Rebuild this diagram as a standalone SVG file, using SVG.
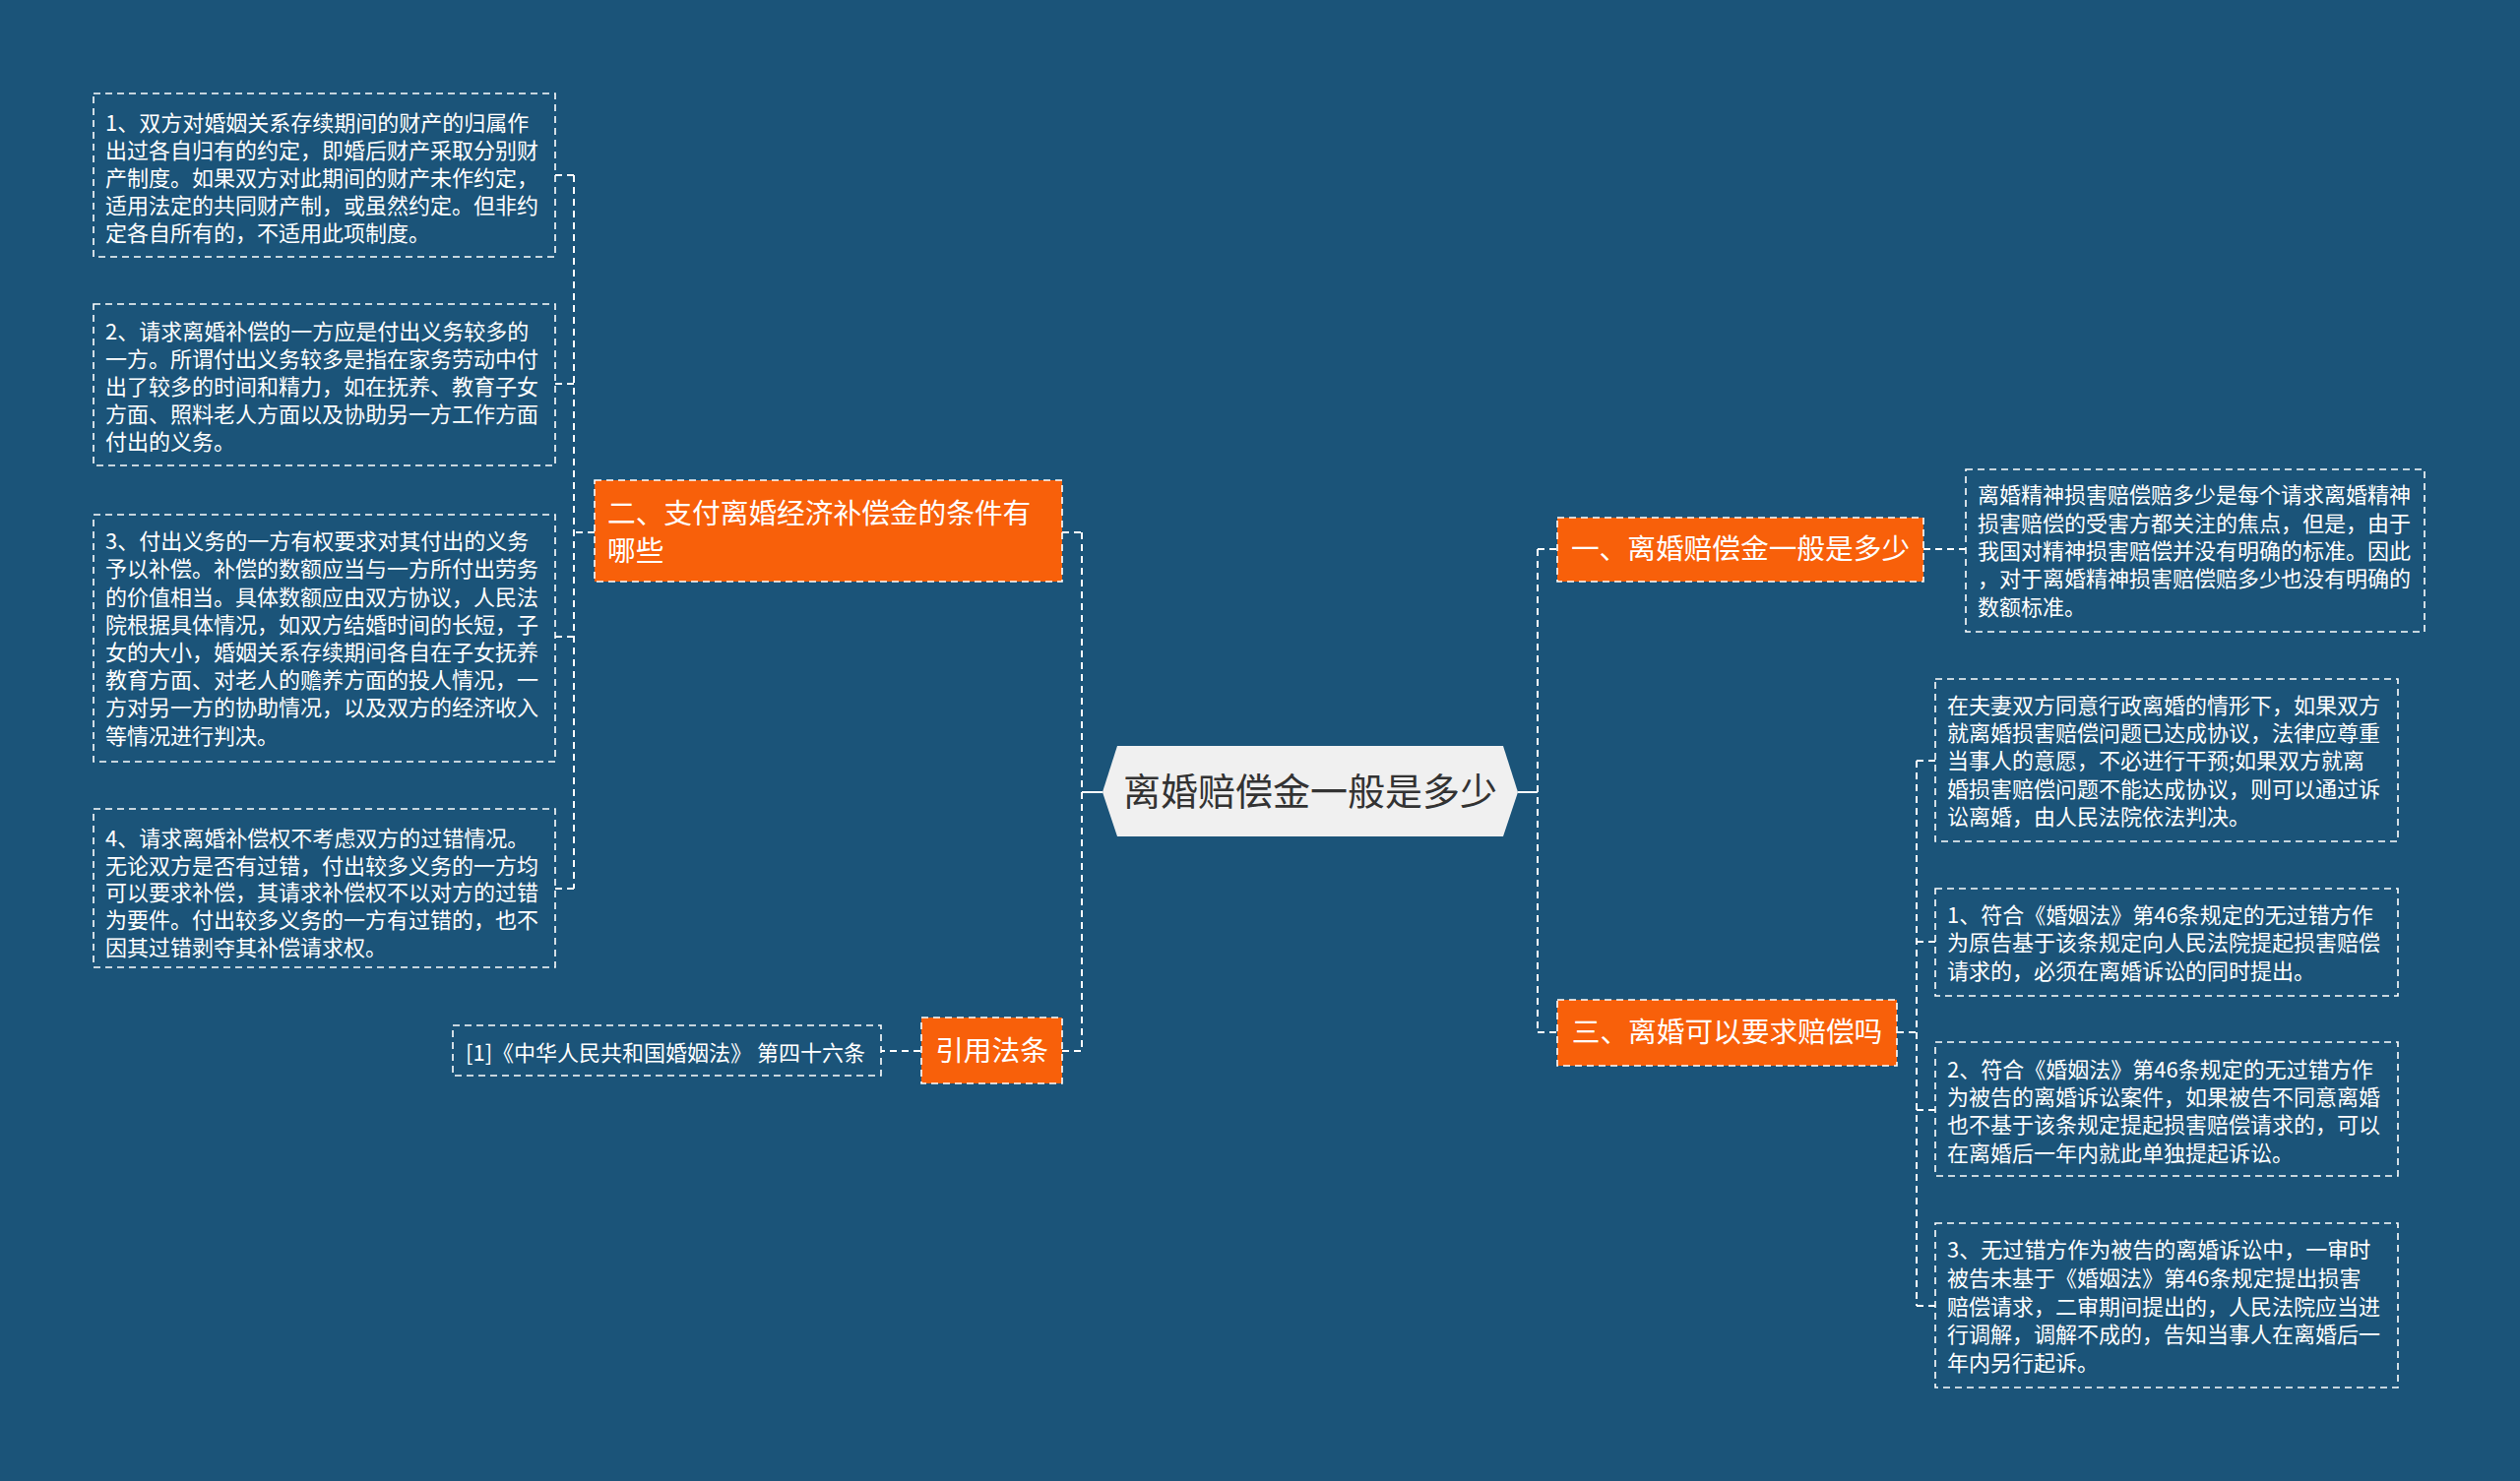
<svg xmlns="http://www.w3.org/2000/svg" width="2560" height="1505" viewBox="0 0 2560 1505">
<style>
.bg{fill:#1b5479}
.leaf{fill:none;stroke:#fff;stroke-width:1.6;stroke-dasharray:7 5}
.topic{fill:#f8600a;stroke:#fff;stroke-width:1.6;stroke-dasharray:7 5}
.conn{fill:none;stroke:#fff;stroke-width:2;stroke-dasharray:7 5}
.solid{fill:none;stroke:#fff;stroke-width:2}
.lt{font-family:"Noto Sans CJK SC","Noto Sans",sans-serif;font-size:22px;fill:#fff}
.tt{font-family:"Noto Sans CJK SC","Noto Sans",sans-serif;font-size:28.7px;fill:#fff}
.ct{font-family:"Noto Sans CJK SC","Noto Sans",sans-serif;font-size:38px;fill:#333}
</style>
<rect class="bg" x="0" y="0" width="2560" height="1505"/>
<g id="connectors">
<path class="solid" d="M1120,805 H1099"/>
<path class="conn" d="M1099,541 V1068"/>
<path class="conn" d="M1079,541 H1099"/>
<path class="conn" d="M1079,1068 H1099"/>
<path class="conn" d="M935,1068 H895"/>
<path class="conn" d="M604,541 H583"/>
<path class="conn" d="M583,178 V903"/>
<path class="conn" d="M583,178 H564"/>
<path class="conn" d="M583,390 H564"/>
<path class="conn" d="M583,647 H564"/>
<path class="conn" d="M583,903 H564"/>
<path class="solid" d="M1542,805 H1562"/>
<path class="conn" d="M1562,558 V1049"/>
<path class="conn" d="M1562,558 H1582"/>
<path class="conn" d="M1562,1049 H1582"/>
<path class="conn" d="M1954,558 H1997"/>
<path class="conn" d="M1927,1049 H1947"/>
<path class="conn" d="M1947,773 V1327"/>
<path class="conn" d="M1947,773 H1966"/>
<path class="conn" d="M1947,957 H1966"/>
<path class="conn" d="M1947,1128 H1966"/>
<path class="conn" d="M1947,1327 H1966"/>
</g>
<g id="center">
<polygon points="1120,805 1135,758 1527,758 1542,805 1527,850 1135,850" fill="#f0f0f0"/>
<text class="ct" x="1331" y="818" text-anchor="middle">离婚赔偿金一般是多少</text>
</g>
<g id="node-er">
<rect class="topic" x="604" y="488" width="475" height="103"/>
<text class="tt" x="617" y="532">二、支付离婚经济补偿金的条件有</text>
<text class="tt" x="617" y="570">哪些</text>
</g>
<g id="node-yinyong">
<rect class="topic" x="936" y="1034" width="143" height="67"/>
<text class="tt" x="1007.5" y="1078" text-anchor="middle">引用法条</text>
</g>
<g id="leaf-law">
<rect class="leaf" x="460" y="1042" width="435" height="51"/>
<text class="lt" x="473" y="1078">[1]《中华人民共和国婚姻法》 第四十六条</text>
</g>
<g id="leaf-l1">
<rect class="leaf" x="95" y="95" width="469" height="166"/>
<text class="lt" x="107" y="133">1、双方对婚姻关系存续期间的财产的归属作</text>
<text class="lt" x="107" y="161">出过各自归有的约定，即婚后财产采取分别财</text>
<text class="lt" x="107" y="189">产制度。如果双方对此期间的财产未作约定，</text>
<text class="lt" x="107" y="217">适用法定的共同财产制，或虽然约定。但非约</text>
<text class="lt" x="107" y="245">定各自所有的，不适用此项制度。</text>
</g>
<g id="leaf-l2">
<rect class="leaf" x="95" y="309" width="469" height="164"/>
<text class="lt" x="107" y="345">2、请求离婚补偿的一方应是付出义务较多的</text>
<text class="lt" x="107" y="373">一方。所谓付出义务较多是指在家务劳动中付</text>
<text class="lt" x="107" y="401">出了较多的时间和精力，如在抚养、教育子女</text>
<text class="lt" x="107" y="429">方面、照料老人方面以及协助另一方工作方面</text>
<text class="lt" x="107" y="457">付出的义务。</text>
</g>
<g id="leaf-l3">
<rect class="leaf" x="95" y="523" width="469" height="251"/>
<text class="lt" x="107" y="558">3、付出义务的一方有权要求对其付出的义务</text>
<text class="lt" x="107" y="586">予以补偿。补偿的数额应当与一方所付出劳务</text>
<text class="lt" x="107" y="615">的价值相当。具体数额应由双方协议，人民法</text>
<text class="lt" x="107" y="643">院根据具体情况，如双方结婚时间的长短，子</text>
<text class="lt" x="107" y="671">女的大小，婚姻关系存续期间各自在子女抚养</text>
<text class="lt" x="107" y="699">教育方面、对老人的赡养方面的投人情况，一</text>
<text class="lt" x="107" y="727">方对另一方的协助情况，以及双方的经济收入</text>
<text class="lt" x="107" y="756">等情况进行判决。</text>
</g>
<g id="leaf-l4">
<rect class="leaf" x="95" y="822" width="469" height="161"/>
<text class="lt" x="107" y="860">4、请求离婚补偿权不考虑双方的过错情况。</text>
<text class="lt" x="107" y="888">无论双方是否有过错，付出较多义务的一方均</text>
<text class="lt" x="107" y="915">可以要求补偿，其请求补偿权不以对方的过错</text>
<text class="lt" x="107" y="943">为要件。付出较多义务的一方有过错的，也不</text>
<text class="lt" x="107" y="971">因其过错剥夺其补偿请求权。</text>
</g>
<g id="node-yi">
<rect class="topic" x="1582" y="526" width="372" height="65"/>
<text class="tt" x="1768" y="568" text-anchor="middle">一、离婚赔偿金一般是多少</text>
</g>
<g id="leaf-r0">
<rect class="leaf" x="1997" y="477" width="466" height="165"/>
<text class="lt" x="2009" y="511">离婚精神损害赔偿赔多少是每个请求离婚精神</text>
<text class="lt" x="2009" y="540">损害赔偿的受害方都关注的焦点，但是，由于</text>
<text class="lt" x="2009" y="568">我国对精神损害赔偿并没有明确的标准。因此</text>
<text class="lt" x="2009" y="596">，对于离婚精神损害赔偿赔多少也没有明确的</text>
<text class="lt" x="2009" y="625">数额标准。</text>
</g>
<g id="node-san">
<rect class="topic" x="1582" y="1016" width="345" height="67"/>
<text class="tt" x="1754.5" y="1059" text-anchor="middle">三、离婚可以要求赔偿吗</text>
</g>
<g id="leaf-r1">
<rect class="leaf" x="1966" y="690" width="470" height="165"/>
<text class="lt" x="1978" y="725">在夫妻双方同意行政离婚的情形下，如果双方</text>
<text class="lt" x="1978" y="753">就离婚损害赔偿问题已达成协议，法律应尊重</text>
<text class="lt" x="1978" y="781">当事人的意愿，不必进行干预;如果双方就离</text>
<text class="lt" x="1978" y="810">婚损害赔偿问题不能达成协议，则可以通过诉</text>
<text class="lt" x="1978" y="838">讼离婚，由人民法院依法判决。</text>
</g>
<g id="leaf-r2">
<rect class="leaf" x="1966" y="903" width="470" height="109"/>
<text class="lt" x="1978" y="938">1、符合《婚姻法》第46条规定的无过错方作</text>
<text class="lt" x="1978" y="966">为原告基于该条规定向人民法院提起损害赔偿</text>
<text class="lt" x="1978" y="995">请求的，必须在离婚诉讼的同时提出。</text>
</g>
<g id="leaf-r3">
<rect class="leaf" x="1966" y="1059" width="470" height="136"/>
<text class="lt" x="1978" y="1095">2、符合《婚姻法》第46条规定的无过错方作</text>
<text class="lt" x="1978" y="1123">为被告的离婚诉讼案件，如果被告不同意离婚</text>
<text class="lt" x="1978" y="1151">也不基于该条规定提起损害赔偿请求的，可以</text>
<text class="lt" x="1978" y="1180">在离婚后一年内就此单独提起诉讼。</text>
</g>
<g id="leaf-r4">
<rect class="leaf" x="1966" y="1243" width="470" height="167"/>
<text class="lt" x="1978" y="1278">3、无过错方作为被告的离婚诉讼中，一审时</text>
<text class="lt" x="1978" y="1307">被告未基于《婚姻法》第46条规定提出损害</text>
<text class="lt" x="1978" y="1336">赔偿请求，二审期间提出的，人民法院应当进</text>
<text class="lt" x="1978" y="1364">行调解，调解不成的，告知当事人在离婚后一</text>
<text class="lt" x="1978" y="1393">年内另行起诉。</text>
</g>
</svg>
